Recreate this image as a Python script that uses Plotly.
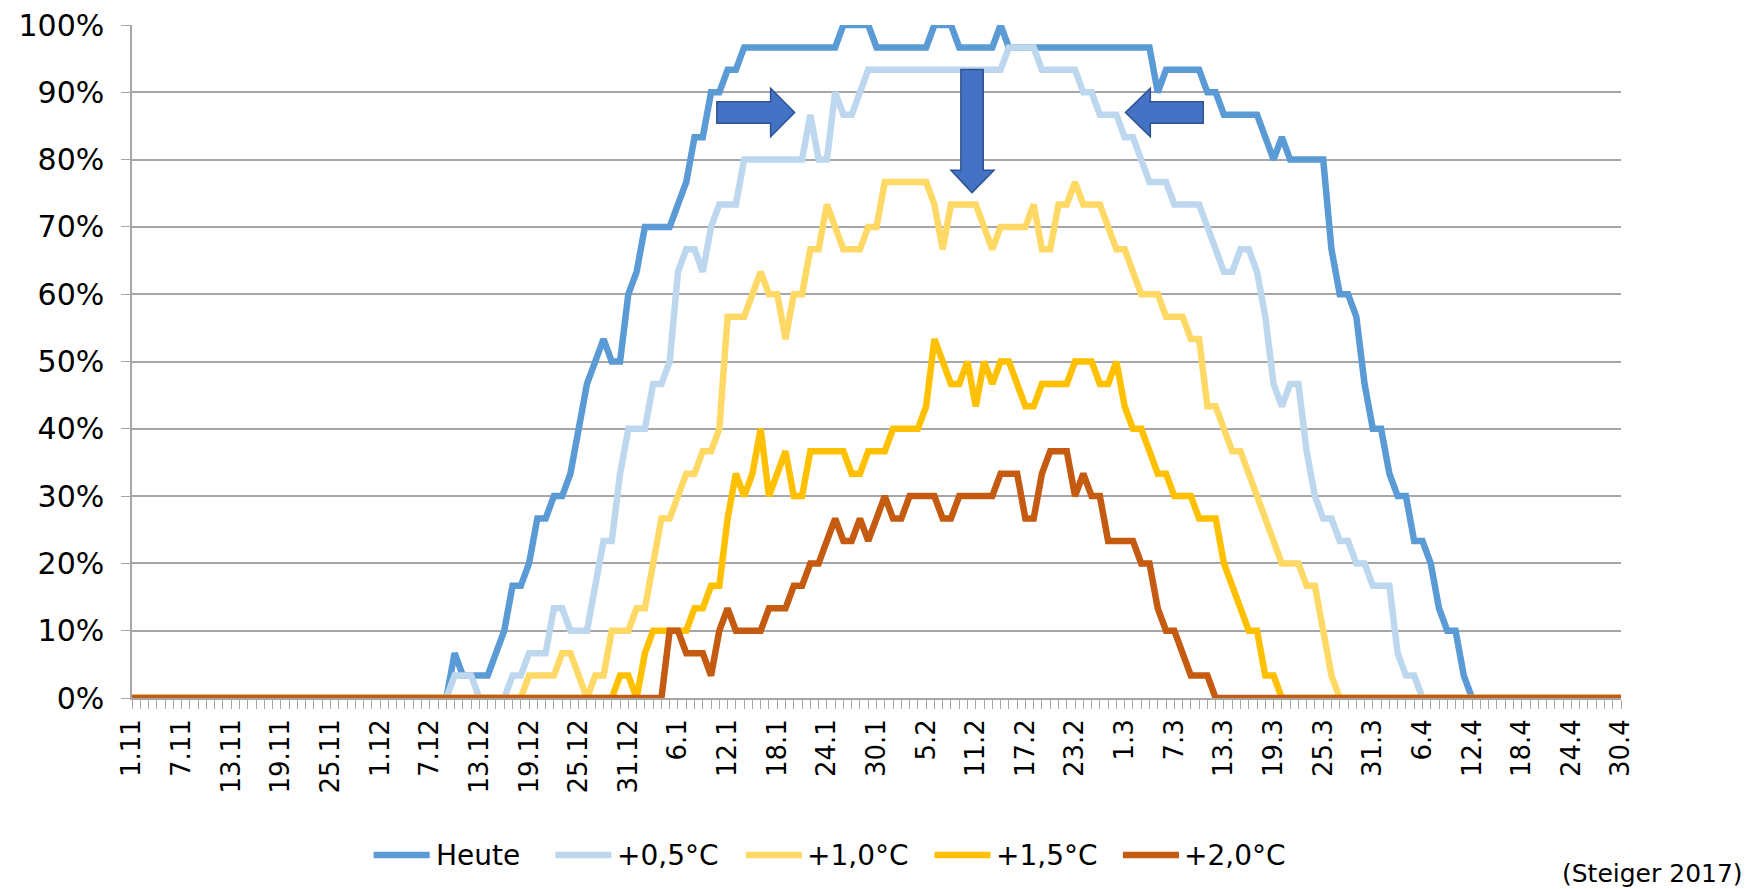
import plotly.graph_objects as go
import pandas as pd

# ---------------- data ----------------
dates = pd.date_range("2016-11-01", "2017-04-30", freq="D")
categories = [f"{d.day}.{d.month}" for d in dates]          # 1.11 ... 30.4

tick_labels = ["1.11", "7.11", "13.11", "19.11", "25.11", "1.12", "7.12", "13.12",
               "19.12", "25.12", "31.12", "6.1", "12.1", "18.1", "24.1", "30.1",
               "5.2", "11.2", "17.2", "23.2", "1.3", "7.3", "13.3", "19.3", "25.3",
               "31.3", "6.4", "12.4", "18.4", "24.4", "30.4"]
y_tick_values = [0, 10, 20, 30, 40, 50, 60, 70, 80, 90, 100]

YEARS = 30  # values below = number of winters (out of 30) with snow on that day

heute = (
    [0] * 30 +                                                             # Nov
    [0, 0, 0, 0, 0, 0, 0, 0, 0, 2, 1, 1, 1, 1, 2, 3, 5, 5, 6, 8, 8, 9, 9, 10,
     12, 14, 15, 16, 15, 15, 18] +                                         # Dec
    [19, 21, 21, 21, 21, 22, 23, 25, 25, 27, 27, 28, 28, 29, 29, 29, 29, 29,
     29, 29, 29, 29, 29, 29, 29, 30, 30, 30, 30, 29, 29] +                 # Jan
    [29, 29, 29, 29, 29, 30, 30, 30, 29, 29, 29, 29, 29, 30, 29, 29, 29, 29,
     29, 29, 29, 29, 29, 29, 29, 29, 29, 29] +                             # Feb
    [29, 29, 29, 29, 27, 28, 28, 28, 28, 28, 27, 27, 26, 26, 26, 26, 26, 25,
     24, 25, 24, 24, 24, 24, 24, 20, 18, 18, 17, 14, 12] +                 # Mar
    [12, 10, 9, 9, 7, 7, 6, 4, 3, 3, 1, 0, 0, 0, 0, 0, 0, 0, 0, 0, 0, 0, 0,
     0, 0, 0, 0, 0, 0, 0]                                                  # Apr
)

plus_05 = (
    [0] * 30 +
    [0, 0, 0, 0, 0, 0, 0, 0, 0, 1, 1, 1, 0, 0, 0, 0, 1, 1, 2, 2, 2, 4, 4, 3,
     3, 3, 5, 7, 7, 10, 12] +
    [12, 12, 14, 14, 15, 19, 20, 20, 19, 21, 22, 22, 22, 24, 24, 24, 24, 24,
     24, 24, 24, 26, 24, 24, 27, 26, 26, 27, 28, 28, 28] +
    [28, 28, 28, 28, 28, 28, 28, 28, 28, 28, 28, 28, 28, 28, 29, 29, 29, 29,
     28, 28, 28, 28, 28, 27, 27, 26, 26, 26] +
    [25, 25, 24, 23, 23, 23, 22, 22, 22, 22, 21, 20, 19, 19, 20, 20, 19, 17,
     14, 13, 14, 14, 11, 9, 8, 8, 7, 7, 6, 6, 5] +
    [5, 5, 2, 1, 1, 0, 0, 0, 0, 0, 0, 0, 0, 0, 0, 0, 0, 0, 0, 0, 0, 0, 0,
     0, 0, 0, 0, 0, 0, 0]
)

plus_10 = (
    [0] * 30 +
    [0, 0, 0, 0, 0, 0, 0, 0, 0, 0, 0, 0, 0, 0, 0, 0, 0, 0, 1, 1, 1, 1, 2, 2,
     1, 0, 1, 1, 3, 3, 3] +
    [4, 4, 6, 8, 8, 9, 10, 10, 11, 11, 12, 17, 17, 17, 18, 19, 18, 18, 16,
     18, 18, 20, 20, 22, 21, 20, 20, 20, 21, 21, 23] +
    [23, 23, 23, 23, 23, 22, 20, 22, 22, 22, 22, 21, 20, 21, 21, 21, 21, 22,
     20, 20, 22, 22, 23, 22, 22, 22, 21, 20] +
    [20, 19, 18, 18, 18, 17, 17, 17, 16, 16, 13, 13, 12, 11, 11, 10, 9, 8, 7,
     6, 6, 6, 5, 5, 3, 1, 0, 0, 0, 0, 0] +
    [0] * 30
)

plus_15 = (
    [0] * 30 +
    [0, 0, 0, 0, 0, 0, 0, 0, 0, 0, 0, 0, 0, 0, 0, 0, 0, 0, 0, 0, 0, 0, 0, 0,
     0, 0, 0, 0, 0, 1, 1] +
    [0, 2, 3, 3, 3, 3, 3, 4, 4, 5, 5, 8, 10, 9, 10, 12, 9, 10, 11, 9, 9, 11,
     11, 11, 11, 11, 10, 10, 11, 11, 11] +
    [12, 12, 12, 12, 13, 16, 15, 14, 14, 15, 13, 15, 14, 15, 15, 14, 13, 13,
     14, 14, 14, 14, 15, 15, 15, 14, 14, 15] +
    [13, 12, 12, 11, 10, 10, 9, 9, 9, 8, 8, 8, 6, 5, 4, 3, 3, 1, 1, 0, 0, 0,
     0, 0, 0, 0, 0, 0, 0, 0, 0] +
    [0] * 30
)

plus_20 = (
    [0] * 30 +
    [0] * 31 +
    [0, 0, 0, 0, 3, 3, 2, 2, 2, 1, 3, 4, 3, 3, 3, 3, 4, 4, 4, 5, 5, 6, 6, 7,
     8, 7, 7, 8, 7, 8, 9] +
    [8, 8, 9, 9, 9, 9, 8, 8, 9, 9, 9, 9, 9, 10, 10, 10, 8, 8, 10, 11, 11, 11,
     9, 10, 9, 9, 7, 7] +
    [7, 7, 6, 6, 4, 3, 3, 2, 1, 1, 1, 0, 0, 0, 0, 0, 0, 0, 0, 0, 0, 0, 0, 0,
     0, 0, 0, 0, 0, 0, 0] +
    [0] * 30
)

series_names = ["Heute", "+0,5°C", "+1,0°C", "+1,5°C", "+2,0°C"]
series_values = [heute, plus_05, plus_10, plus_15, plus_20]
series_colors = ["#5B9BD5", "#BDD7EE", "#FFD966", "#FFC000", "#C55A11"]

# ---------------- figure ----------------
W, H = 1759, 889
ML, MR, MT, MB = 132, 138, 25, 191
PW, PH = W - ML - MR, H - MT - MB
FONT = "DejaVu Sans"
AXIS_GREY = "#A6A6A6"
LINE_W = 6.5


def px_x(px):
    return (px - ML) / PW


def px_y(py):
    return (H - MB - py) / PH


x_pos = list(range(len(categories)))
tick_pos = [categories.index(t) for t in tick_labels]

fig = go.Figure()
for name, vals, col in zip(series_names, series_values, series_colors):
    fig.add_trace(go.Scatter(
        x=x_pos, y=[v / YEARS * 100 for v in vals], name=name, mode="lines",
        line=dict(color=col, width=LINE_W), cliponaxis=False,
        customdata=categories, showlegend=False,
        hovertemplate="%{customdata}: %{y:.1f}%<extra>" + name + "</extra>"))

# blue arrows (data coordinates: day index / percent)
arrow_style = dict(type="path", xref="x", yref="y", fillcolor="#4472C4",
                   line=dict(color="#2F528F", width=1.5), layer="above")
fig.add_shape(path="M70.7,88.6 L77.2,88.6 L77.2,90.6 L80.1,87.0 L77.2,83.4 "
                   "L77.2,85.4 L70.7,85.4 Z", **arrow_style)
fig.add_shape(path="M100.2,93.4 L102.9,93.4 L102.9,78.4 L104.2,78.4 "
                   "L101.55,75.1 L99.0,78.4 L100.2,78.4 Z", **arrow_style)
fig.add_shape(path="M129.5,88.6 L123.1,88.6 L123.1,90.6 L120.1,87.0 "
                   "L123.1,83.4 L123.1,85.4 L129.5,85.4 Z", **arrow_style)

# manual legend
legend_items = [(373.6, 429.7, 434.0), (555.3, 611.4, 614.7), (746.0, 802.0, 805.4),
                (934.5, 990.5, 994.0), (1123.0, 1179.0, 1182.4)]
LEG_Y = 855
for (x0, x1, xt), name, col in zip(legend_items, series_names, series_colors):
    fig.add_shape(type="line", xref="paper", yref="paper",
                  x0=px_x(x0), x1=px_x(x1), y0=px_y(LEG_Y), y1=px_y(LEG_Y),
                  line=dict(color=col, width=LINE_W))
    fig.add_annotation(xref="paper", yref="paper", x=px_x(xt), y=px_y(LEG_Y),
                       text=name, showarrow=False, xanchor="left", yanchor="middle",
                       font=dict(family=FONT, size=28, color="#000000"))

fig.add_annotation(xref="paper", yref="paper", x=px_x(1745), y=px_y(873),
                   text="(Steiger 2017)", showarrow=False, xanchor="right",
                   yanchor="middle", font=dict(family=FONT, size=25, color="#000000"))

fig.update_layout(
    width=W, height=H, autosize=False,
    margin=dict(l=ML, r=MR, t=MT, b=MB, pad=0, autoexpand=False),
    paper_bgcolor="white", plot_bgcolor="white",
    font=dict(family=FONT, color="#000000"),
    xaxis=dict(range=[0, len(categories) - 1], tickmode="array", tickvals=tick_pos,
               ticktext=tick_labels, tickangle=-90, ticks="outside", ticklen=9,
               tickcolor=AXIS_GREY, tickwidth=1.2, showline=True, linecolor=AXIS_GREY,
               linewidth=1.5, showgrid=False, zeroline=False, automargin=False,
               tickfont=dict(family=FONT, size=26, color="#000000"),
               minor=dict(tickmode="linear", tick0=0, dtick=1, ticks="outside",
                          ticklen=9, tickcolor=AXIS_GREY, tickwidth=1.2, showgrid=False)),
    yaxis=dict(range=[0, 100], tickmode="array", tickvals=y_tick_values,
               ticktext=[f"{v}%" for v in y_tick_values], ticks="outside", ticklen=9,
               tickcolor=AXIS_GREY, tickwidth=1.2, showline=True, linecolor=AXIS_GREY,
               linewidth=1.5, showgrid=True, gridcolor=AXIS_GREY, gridwidth=1.5,
               zeroline=False, ticklabelstandoff=11, automargin=False,
               tickfont=dict(family=FONT, size=30, color="#000000")),
)

fig.write_html("out.html", include_plotlyjs=True, full_html=True,
               config={"displayModeBar": False},
               post_script="document.body.style.margin='0';"
                           "document.body.style.overflow='hidden';")
